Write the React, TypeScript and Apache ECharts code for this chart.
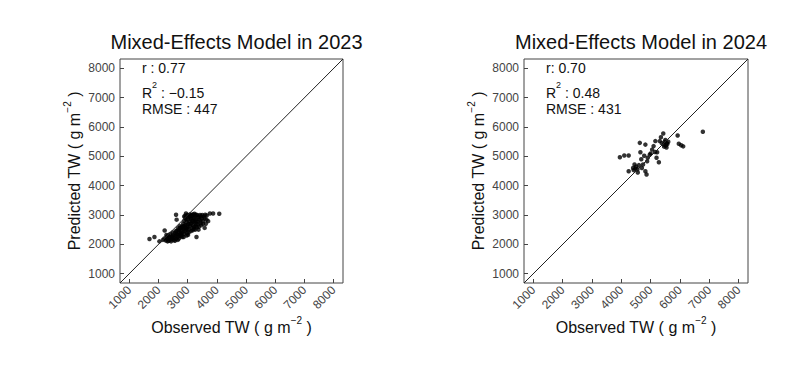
import React, { useEffect, useRef } from "react";
import * as echarts from "echarts";

// Observed vs predicted total weight (g m^-2) for the mixed-effects model.
const obs2023 = [
  1690, 1860, 2030, 2210, 2600, 2620, 3760, 3870, 4080, 3580, 3300, 2860, 3520, 3640, 3700,
  2150, 2200, 2250, 2280, 2300, 2330, 2350, 2380, 2400, 2420, 2450, 2470, 2480, 2500, 2520,
  2540, 2560, 2580, 2600, 2620, 2640, 2650, 2680, 2700, 2720, 2740, 2760, 2780,
  2800, 2820, 2840, 2860, 2880, 2900, 2910, 2920, 2940, 2960, 2980, 3000, 3010, 3020, 3040,
  3050, 3060, 3080, 3100, 3110, 3120, 3140, 3150, 3160, 3180, 3200, 3210, 3230, 3250, 3270,
  3290, 3300, 3320, 3340, 3360, 3380, 3400, 3420, 3440, 3460, 3480, 3500, 3550, 3600, 3650,
  2750, 2790, 2850, 2870, 2930, 2950, 2990, 3030, 3070, 3090, 3130, 3170, 3190, 3220, 3240,
  3260, 3280, 3310, 3350, 3370, 3390, 3430, 2560, 2610, 2660, 2690, 2710, 2730, 2770, 2810,
  2830, 2890, 2970, 3010, 2480, 2430, 2360, 2310, 2270, 2590, 2670, 2920, 3000, 3080, 3130,
  3180, 3230, 3280, 2940, 2880, 2960, 3460, 3520, 3580, 3620,
];
const pred2023 = [
  2180, 2250, 2100, 2470, 3010, 2840, 3050, 3050, 3040, 2560, 2250, 2250, 2790, 2840, 2790,
  2150, 2200, 2130, 2250, 2180, 2300, 2120, 2220, 2350, 2160, 2270, 2200, 2400, 2300, 2150,
  2230, 2380, 2290, 2180, 2450, 2330, 2250, 2400, 2200, 2520, 2350, 2280, 2470,
  2600, 2400, 2700, 2520, 2800, 2450, 2650, 2900, 2550, 2750, 2380, 2600, 2850, 2700, 2500,
  2950, 2780, 2620, 2880, 2450, 2720, 2560, 2980, 2800, 2650, 2900, 2520, 2750, 2980, 2620,
  2850, 2700, 3000, 2780, 2920, 2600, 2850, 3000, 2720, 2950, 2880, 3000, 2950, 3010, 2980,
  2560, 2330, 2620, 2350, 2480, 2850, 2520, 2400, 2950, 2700, 2870, 2480, 2780, 2600, 2880,
  2500, 2780, 2580, 2680, 2500, 2950, 2800, 2120, 2350, 2150, 2480, 2300, 2620, 2400, 2250,
  2550, 2600, 2650, 2320, 2250, 2100, 2250, 2100, 2320, 2450, 2550, 2980, 3000, 3020, 3000,
  3020, 3040, 3010, 3050, 2950, 2300, 2650, 2700, 2880, 2700,
];

const obs2024 = [
  3950, 4100, 4250, 4250, 4400, 4450, 4500, 4550, 4420, 4600, 4480, 4630, 4650, 4820, 4740,
  4820, 4860, 4880, 4970, 5050, 5200, 5220, 5280, 5160, 5310, 5430, 5450, 5480, 5520, 5550,
  5500, 5570, 5460, 5540, 5920, 5960, 6040, 6110, 6780, 4700, 4900, 5000, 5100, 5380, 4560,
  4680, 5350, 5600, 4780, 5150,
];
const pred2024 = [
  4970, 5030, 5030, 4490, 4600, 4720, 4650, 4560, 4530, 4700, 4580, 5460, 5140, 5400, 4720,
  4490, 4380, 4830, 5060, 5230, 4950, 5140, 4800, 5520, 5520, 5780, 5400, 5500, 5370, 5450,
  5560, 5420, 5330, 5300, 5710, 5430, 5380, 5340, 5840, 4600, 4950, 5100, 5350, 5450, 4450,
  4900, 5650, 5500, 5020, 5150,
];

const tickValues = [1000, 2000, 3000, 4000, 5000, 6000, 7000, 8000];
const axisMin = 680;
const axisMax = 8320;

const panels = [
  { title: "Mixed-Effects Model in 2023", obs: obs2023, pred: pred2023, r: "r : 0.77", r2: " : \u22120.15", rmse: "RMSE : 447" },
  { title: "Mixed-Effects Model in 2024", obs: obs2024, pred: pred2024, r: "r: 0.70", r2: " : 0.48", rmse: "RMSE : 431" },
];

const FONT = "Liberation Sans, Arial, sans-serif";
// Positions are relative to the chart div, which sits inside the page's 8px body margin.
const gridPos = [
  { left: 112, top: 51, width: 223, height: 224 },
  { left: 516, top: 51, width: 224, height: 224 },
];

const unitRich = {
  n: { fontSize: 16, fontFamily: FONT, color: "#111", verticalAlign: "bottom" as const, lineHeight: 20 },
  s: { fontSize: 10, fontFamily: FONT, color: "#111", verticalAlign: "top" as const, lineHeight: 20 },
};

export default function App() {
  const ref = useRef<HTMLDivElement>(null);

  useEffect(() => {
    if (!ref.current) return;
    const chart = echarts.init(ref.current, null, { renderer: "svg" });

    const axisCommon = {
      type: "value" as const,
      min: axisMin,
      max: axisMax,
      splitLine: { show: false },
      axisLine: { show: false },
      nameMoveOverlap: false,
      axisTick: { show: true, inside: true, length: 4, customValues: tickValues, lineStyle: { color: "#444", width: 1 } },
    };
    const labelCommon = {
      customValues: tickValues,
      margin: 5,
      fontSize: 12,
      fontFamily: FONT,
      color: "#444",
      formatter: (v: number) => String(v),
    };

    const option: any = {
      animation: false,
      backgroundColor: "#fff",
      title: panels.map((p, i) => ({
        text: p.title,
        left: gridPos[i].left + gridPos[i].width / 2,
        top: 19,
        textAlign: "center",
        textStyle: { fontFamily: FONT, fontSize: 20, fontWeight: "normal", color: "#111" },
      })),
      grid: gridPos.map((g) => ({
        ...g,
        show: true,
        borderColor: "#444",
        borderWidth: 1,
        backgroundColor: "transparent",
        containLabel: false,
        outerBoundsMode: "none",
      })),
      xAxis: panels.map((_, i) => ({
        ...axisCommon,
        gridIndex: i,
        name: "{n|Observed TW ( g m}{s|\u22122}{n| )}",
        nameLocation: "middle",
        nameGap: 32,
        nameTextStyle: { rich: unitRich },
        axisLabel: { ...labelCommon, rotate: 45 },
      })),
      yAxis: panels.map((_, i) => ({
        ...axisCommon,
        gridIndex: i,
        name: "{n|Predicted TW ( g m}{s|\u22122}{n| )}",
        nameLocation: "middle",
        nameGap: 38,
        nameRotate: 90,
        nameTextStyle: { rich: unitRich },
        axisLabel: labelCommon,
      })),
      series: panels.flatMap((p, i) => [
        {
          type: "line",
          xAxisIndex: i,
          yAxisIndex: i,
          data: [[axisMin, axisMin], [axisMax, axisMax]],
          symbol: "none",
          lineStyle: { color: "#222", width: 1 },
          silent: true,
        },
        {
          type: "scatter",
          xAxisIndex: i,
          yAxisIndex: i,
          data: p.obs.map((o, k) => [o, p.pred[k]]),
          symbol: "circle",
          symbolSize: 4.5,
          itemStyle: { color: "#000" },
        },
      ]),
      graphic: panels.flatMap((p, i) => {
        const x = gridPos[i].left + 22;
        const base = { fontFamily: FONT, fontSize: 14, fill: "#111" };
        return [
          { type: "text", x, y: 53, style: { ...base, text: p.r } },
          {
            type: "text",
            x,
            y: 72,
            style: {
              text: "{a|R}{b|2}{a|" + p.r2 + "}",
              rich: {
                a: { fontFamily: FONT, fontSize: 14, fill: "#111", color: "#111", verticalAlign: "bottom", lineHeight: 20 },
                b: { fontFamily: FONT, fontSize: 9, fill: "#111", color: "#111", verticalAlign: "top", lineHeight: 20 },
              },
            },
          },
          { type: "text", x, y: 94, style: { ...base, text: p.rmse } },
        ];
      }),
    };

    chart.setOption(option);
    return () => chart.dispose();
  }, []);

  return <div ref={ref} style={{ width: 793, height: 353 }} />;
}
